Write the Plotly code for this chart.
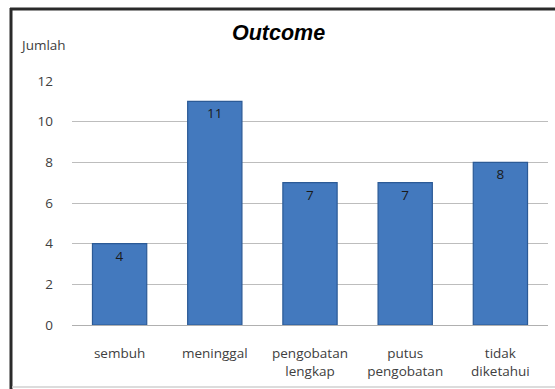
import plotly.graph_objects as go

categories = ["sembuh", "meninggal", "pengobatan<br>lengkap", "putus<br>pengobatan", "tidak<br>diketahui"]
values = [4, 11, 7, 7, 8]
y_ticks = [0, 2, 4, 6, 8, 10, 12]

W, H = 555, 389
L, R, T, B = 72, 7, 81, 64
pw, ph = W - L - R, H - T - B

def px_x(x):
    return (x - L) / pw

def px_y(y):
    return (H - B - y) / ph

FONT = "Open Sans, sans-serif"
FS = 13.5

fig = go.Figure()
fig.add_trace(go.Bar(
    x=categories, y=values,
    text=[str(v) for v in values],
    textposition="inside", insidetextanchor="end",
    textfont=dict(family=FONT, size=FS, color="#1a1a1a"),
    marker=dict(color="#4379BE", line=dict(color="#2B5A96", width=1.2)),
    width=0.57,
    cliponaxis=False,
))

fig.update_layout(
    width=W, height=H,
    margin=dict(l=L, r=R, t=T, b=B),
    paper_bgcolor="white", plot_bgcolor="white",
    showlegend=False,
    font=dict(family=FONT, size=FS, color="#404040"),
    title=dict(text="<b><i>Outcome</i></b>", x=278.5 / W, xanchor="center", y=1 - 32 / H, yanchor="middle",
               font=dict(family="Liberation Sans, Arial, sans-serif", size=21.5, color="#000000")),
    xaxis=dict(showline=True, linecolor="#B0B0B0", linewidth=1, ticks="", showgrid=False,
               ticklabelstandoff=16, tickfont=dict(family=FONT, size=FS, color="#404040")),
    yaxis=dict(range=[0, 12], tickvals=y_ticks, showgrid=True, gridcolor="#BDBDBD", gridwidth=1,
               zeroline=False, showline=False, ticks="", ticklabelstandoff=18,
               tickfont=dict(family=FONT, size=FS, color="#404040")),
    shapes=[
        dict(type="line", xref="paper", yref="paper", x0=px_x(11), x1=px_x(11), y0=px_y(8), y1=px_y(389),
             line=dict(color="#2a2a2a", width=3)),
        dict(type="line", xref="paper", yref="paper", x0=px_x(10), x1=px_x(556), y0=px_y(9), y1=px_y(9),
             line=dict(color="#2a2a2a", width=3)),
        dict(type="line", xref="paper", yref="paper", x0=px_x(12), x1=px_x(556), y0=px_y(387), y1=px_y(387),
             line=dict(color="#D0D0D0", width=1.5)),
    ],
    annotations=[
        dict(text="Jumlah", xref="paper", yref="paper", x=px_x(18), y=px_y(45), xanchor="left", yanchor="middle",
             showarrow=False, font=dict(family=FONT, size=FS, color="#404040")),
    ],
)

fig.write_html("out.html")
